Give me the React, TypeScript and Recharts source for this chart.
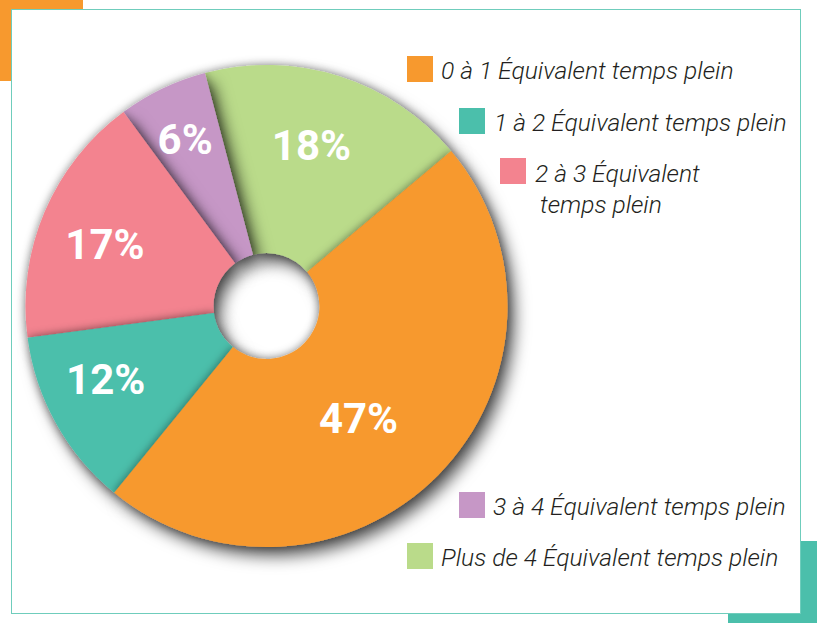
import { Cell, Legend, Pie, PieChart } from 'recharts';

// legend order (clockwise from the top-right boundary)
const categories = [
  '0 à 1 Équivalent temps plein',
  '1 à 2 Équivalent temps plein',
  '2 à 3 Équivalent temps plein',
  '3 à 4 Équivalent temps plein',
  'Plus de 4 Équivalent temps plein',
];
const shares = [47, 12, 17, 6, 18];
const colors = ['#f7992e', '#4bbfab', '#f3838f', '#c697c6', '#badb8a'];

// slices are drawn counter-clockwise (green first, orange last) so that
// each slice sits on top of the one drawn before it, like in the original
const pieData = categories
  .map((name, i) => ({ name, value: shares[i], color: colors[i] }))
  .reverse();

// label placement per slice: radius and a small angle nudge (degrees)
const labelPlacement = [
  { r: 145, nudge: -6 },
  { r: 177, nudge: -4.5 },
  { r: 173, nudge: 2 },
  { r: 185, nudge: 0.5 },
  { r: 167, nudge: 2 },
];

// where each legend entry sits on the page (same order as categories)
const legendSpots = [
  { box: [407, 56], text: [441, 57] },
  { box: [459, 108], text: [494, 109] },
  { box: [500, 158], text: [535, 158] },
  { box: [459, 492], text: [493, 493] },
  { box: [407, 543], text: [441, 544] },
];

const RADIAN = Math.PI / 180;

type LabelProps = {
  cx: number;
  cy: number;
  midAngle: number;
  value: number;
  name: string;
};

const renderLabel = ({ cx, cy, midAngle, value, name }: LabelProps) => {
  const place = labelPlacement[categories.indexOf(name)];
  const angle = midAngle + place.nudge;
  const x = cx + place.r * Math.cos(-angle * RADIAN);
  const y = cy + place.r * Math.sin(-angle * RADIAN);
  return (
    <text
      x={x}
      y={y}
      fill="#ffffff"
      textAnchor="middle"
      dominantBaseline="central"
      style={{ fontFamily: 'Roboto, sans-serif', fontWeight: 700, fontSize: 42 }}
    >
      {`${value}%`}
    </text>
  );
};

const CustomLegend = () => (
  <div style={{ position: 'relative', width: 817, height: 623 }}>
    {categories.map((name, i) => {
      const spot = legendSpots[i];
      const twoLines = i === 2;
      return (
        <div key={name}>
          <div
            style={{
              position: 'absolute',
              left: spot.box[0],
              top: spot.box[1],
              width: 26,
              height: 26,
              background: colors[i],
            }}
          />
          <div
            style={{
              position: 'absolute',
              left: spot.text[0],
              top: spot.text[1],
              fontFamily: 'Roboto, sans-serif',
              fontWeight: 300,
              fontStyle: 'italic',
              fontSize: 24.6,
              lineHeight: twoLines ? '31px' : '28px',
              color: '#231f20',
              whiteSpace: 'nowrap',
              textAlign: 'left',
            }}
          >
            {twoLines ? (
              <>
                2 à 3 Équivalent
                <br />
                <span style={{ marginLeft: 5 }}>temps plein</span>
              </>
            ) : (
              name
            )}
          </div>
        </div>
      );
    })}
  </div>
);

export default function App() {
  return (
    <div
      className="donut"
      style={{
        position: 'absolute',
        left: 0,
        top: 0,
        width: 817,
        height: 623,
        background: '#ffffff',
        overflow: 'hidden',
      }}
    >
      <style>{`.donut .recharts-sector { filter: url(#sliceShadow); }`}</style>
      <svg width={0} height={0} style={{ position: 'absolute' }}>
        <defs>
          <filter id="sliceShadow" x="-40%" y="-40%" width="180%" height="180%">
            <feGaussianBlur in="SourceAlpha" stdDeviation="8" result="b1" />
            <feOffset in="b1" dx="7" dy="9" result="o1" />
            <feFlood floodColor="#000000" floodOpacity="0.65" result="f1" />
            <feComposite in="f1" in2="o1" operator="in" result="s1" />
            <feGaussianBlur in="SourceAlpha" stdDeviation="5" result="b2" />
            <feFlood floodColor="#000000" floodOpacity="0.42" result="f2" />
            <feComposite in="f2" in2="b2" operator="in" result="s2" />
            <feMerge>
              <feMergeNode in="s1" />
              <feMergeNode in="s2" />
              <feMergeNode in="SourceGraphic" />
            </feMerge>
          </filter>
        </defs>
      </svg>

      {/* corner blocks behind the frame */}
      <div style={{ position: 'absolute', left: 0, top: 0, width: 83, height: 81, background: '#f7992e' }} />
      <div style={{ position: 'absolute', left: 728, top: 541, width: 89, height: 82, background: '#4bbfab' }} />
      <div
        style={{
          position: 'absolute',
          left: 11,
          top: 9,
          width: 788,
          height: 603,
          border: '1.5px solid #6fcdbc',
          background: '#ffffff',
        }}
      />

      <div style={{ position: 'absolute', left: 0, top: 0 }}>
        <PieChart width={817} height={623} margin={{ top: 0, right: 0, bottom: 0, left: 0 }}>
          <Pie
            data={pieData}
            dataKey="value"
            nameKey="name"
            cx={266.5}
            cy={306}
            outerRadius={241}
            innerRadius={53}
            startAngle={40}
            endAngle={400}
            stroke="none"
            labelLine={false}
            label={renderLabel}
            isAnimationActive={false}
          >
            {pieData.map((d) => (
              <Cell key={d.name} fill={d.color} />
            ))}
          </Pie>
          <Legend
            content={<CustomLegend />}
            wrapperStyle={{ left: 0, top: 0, width: 817, height: 623, pointerEvents: 'none' }}
          />
        </PieChart>
      </div>
    </div>
  );
}
